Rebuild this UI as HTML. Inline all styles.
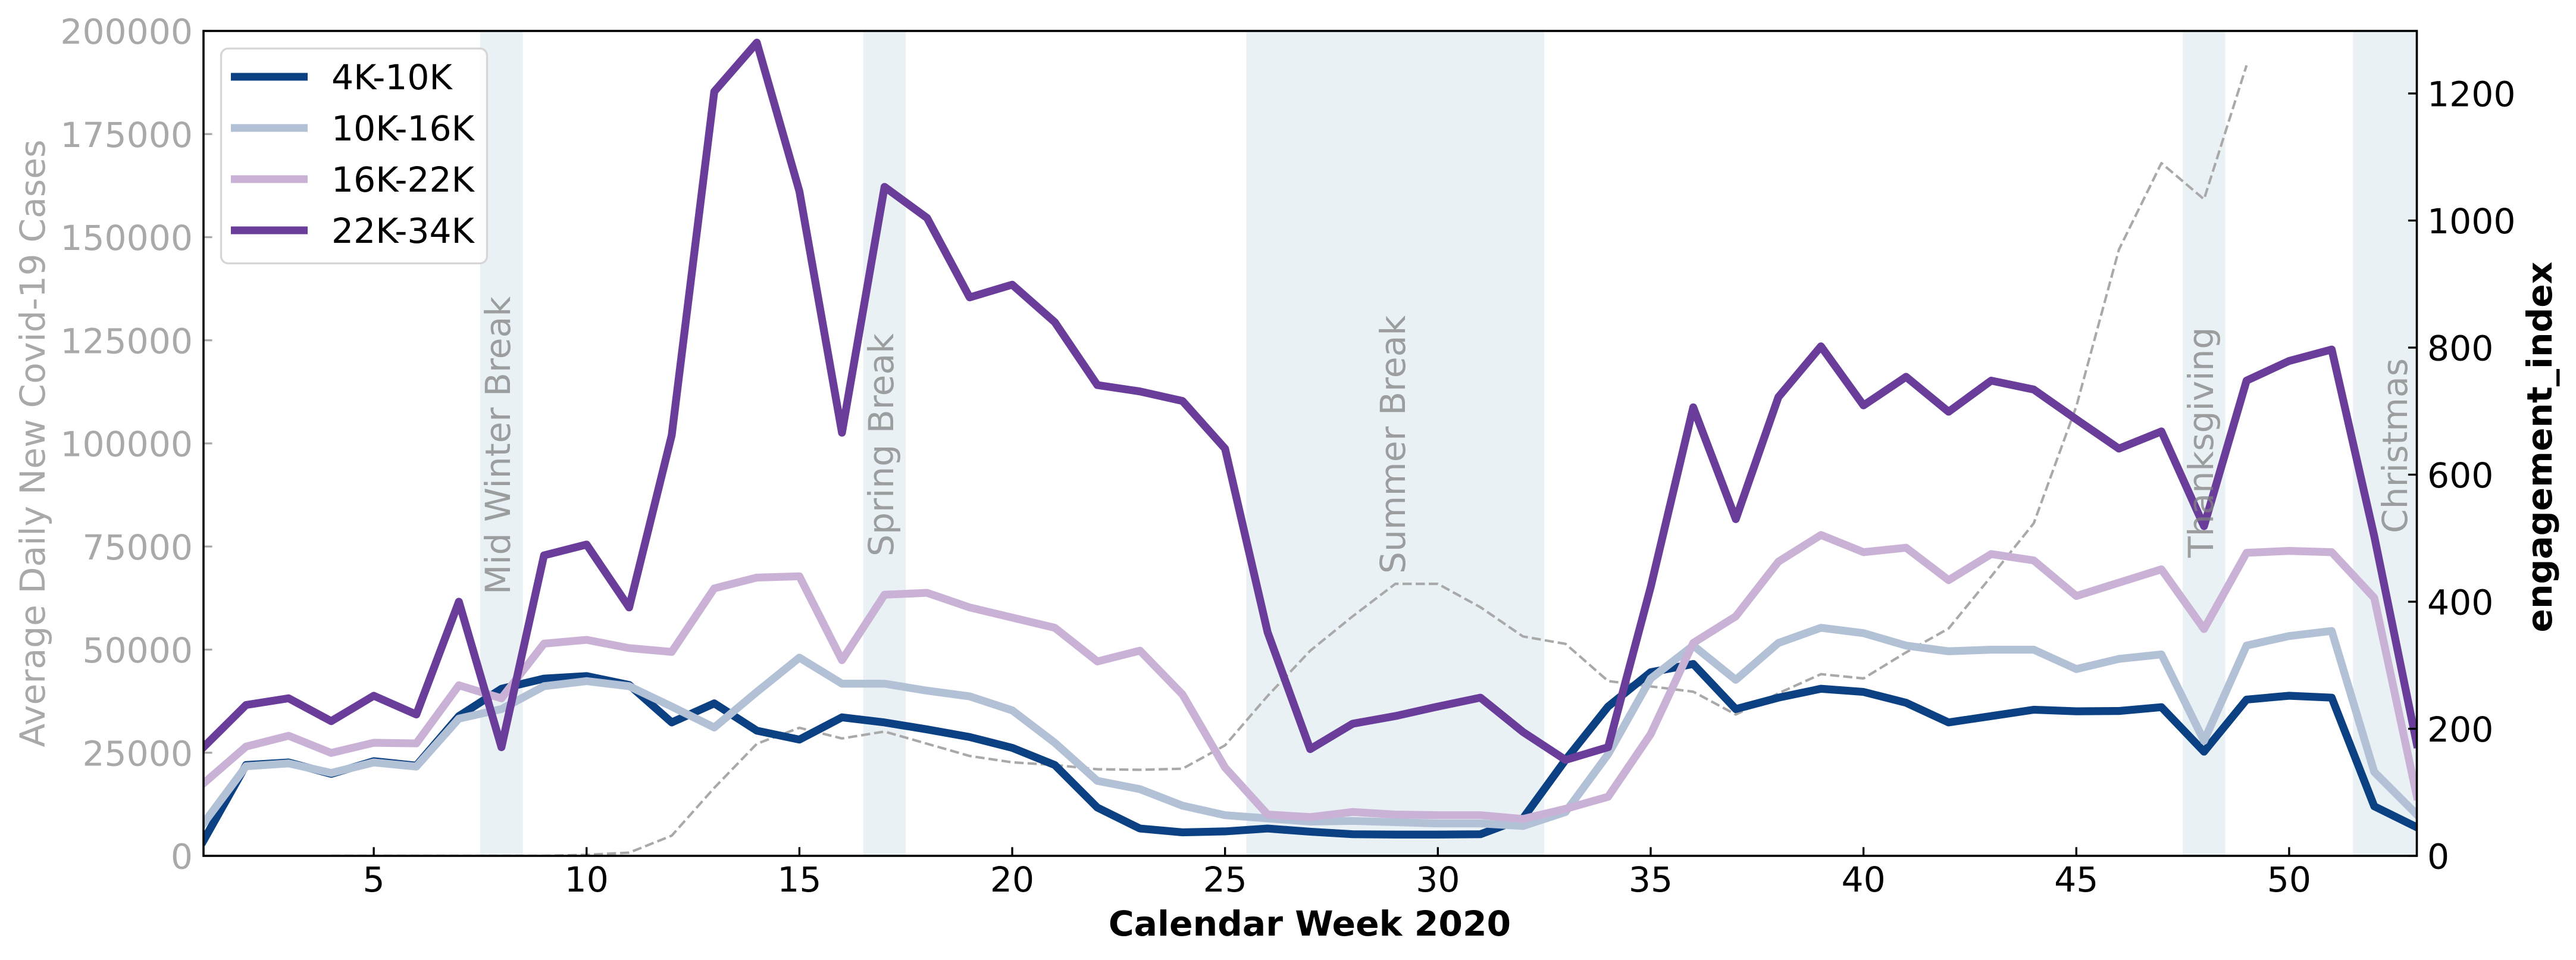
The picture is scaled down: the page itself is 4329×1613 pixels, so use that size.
<!DOCTYPE html>
<html lang="en">
<head>
<meta charset="utf-8">
<title>Engagement index and Covid-19 cases by calendar week 2020</title>
<style>
html,body{margin:0;padding:0;background:#fff;width:4329px;height:1613px;overflow:hidden}
svg{display:block}
text{font-family:"DejaVu Sans","Liberation Sans",sans-serif;font-size:58.33px}
</style>
</head>
<body>
<svg id="chart" xmlns="http://www.w3.org/2000/svg" width="4329" height="1613" viewBox="0 0 4329 1613">
<rect width="4329" height="1613" fill="#ffffff"/>
<defs><clipPath id="plot-clip"><rect x="342" y="52" width="3719.5" height="1386"/></clipPath></defs>
</svg>
<script>
const weeks = [1,2,3,4,5,6,7,8,9,10,11,12,13,14,15,16,17,18,19,20,21,22,23,24,25,26,27,28,29,30,31,32,33,34,35,36,37,38,39,40,41,42,43,44,45,46,47,48,49,50,51,52,53];
const series4k10k = [24,143,147,129,149,142,220,263,279,283,269,210,240,197,183,218,210,199,187,170,143,76,43,37,38.5,43,38,34,33.5,33.5,34,59,151,235,289,302,231,249,263,258,241,210,220,230,227.5,228,234,164,246,252,249,78,45];
const series10k16k = [51,141,145.5,130.5,147,140.5,216,231,267,275,267,235,202,258,312,271,271,260,251,229,178,118,105,79,64,59,54,55,53,51,51,47,69,160,279,331,277,335,359,350.5,331,322,324.5,324.5,294,310,317,181,331,346,354,132,65];
const series16k22k = [114,172,189,162,178,177,268.5,248,334,340,327,321,421,438,440,308,411,414,391,375,359,306,323,254,139,65,61,69,65,64,64,58,74,93,191.5,335,377,463,505,478,485,434,475,465,409,430,451,357,477,480,478,406,94];
const series22k34k = [171,237.5,248,212,252,222.5,400,171,473,490,391,662,1203,1280,1046,666,1053,1004,879,899,840,741,731,716,641,352,168,208,220,235,249,195,151,171,423,706,530,722,802,709,754,699,748,734,687,641,668,519,748,779,797,503,176];
const casesSeries = [null,null,null,0,0,0,0,0,0,258,773,4894,16486,27177,31041,28465,30139,27177,24214,22669,22025,20994,20866,21123,26790,38769,49717,58089,65946,65946,60278,53194,51391,42375,41087,39799,34261,39413,44050,43019,49330,55126,67749,80629,108965,146961,167955,159197,191654,null,null,null,null];
const seriesNames = ["4K-10K","10K-16K","16K-22K","22K-34K"];
const xTicks = [5,10,15,20,25,30,35,40,45,50];
const leftTicks = [0,25000,50000,75000,100000,125000,150000,175000,200000];
const rightTicks = [0,200,400,600,800,1000,1200];
const breakNames = ["Mid Winter Break","Spring Break","Summer Break","Thanksgiving","Christmas"];
const breakStarts = [7.5,16.5,25.5,47.5,51.5];
const breakEnds = [8.5,17.5,32.5,48.5,53];

const NS = "http://www.w3.org/2000/svg";
const svg = document.getElementById("chart");
const L = 342, R = 4061.5, T = 52, B = 1438;
const xMin = 1, xMax = 53, leftMax = 200000, rightMax = 1298.4;
const xScale = w => L + (w - xMin) / (xMax - xMin) * (R - L);
const yLeft = v => B - v / leftMax * (B - T);
const yRight = v => B - v / rightMax * (B - T);
const colors = ["#0b4083","#b3c1d6","#cab2d6","#6a3d9a"];
const GREY = "#a9a9a9";

function make(tag, attrs, parent, txt) {
  const e = document.createElementNS(NS, tag);
  for (const k in attrs) e.setAttribute(k, attrs[k]);
  if (txt !== undefined) e.textContent = txt;
  (parent || svg).appendChild(e);
  return e;
}
function linePath(xs, ys, scale) {
  let d = "", pen = false;
  ys.forEach((v, i) => {
    if (v === null) { pen = false; return; }
    d += (pen ? "L" : "M") + xScale(xs[i]).toFixed(2) + " " + scale(v).toFixed(2);
    pen = true;
  });
  return d;
}

/* holiday bands */
breakNames.forEach((n, i) => {
  const r = make("rect", {x: xScale(breakStarts[i]), y: T + 2, width: xScale(breakEnds[i]) - xScale(breakStarts[i]), height: B - T - 2, fill: "#e9f1f5"});
  
  
});

/* cases dashed line */
const casesLine = make("path", {d: linePath(weeks, casesSeries, yLeft), fill: "none", stroke: GREY, "stroke-width": 4.17, "stroke-dasharray": "15.4 6.67", "stroke-linejoin": "round", "clip-path": "url(#plot-clip)"});



/* engagement lines */
[series4k10k, series10k16k, series16k22k, series22k34k].forEach((s, i) => {
  const p = make("path", {d: linePath(weeks, s, yRight), fill: "none", stroke: colors[i], "stroke-width": 13.2, "stroke-linejoin": "round", "stroke-linecap": "square", "clip-path": "url(#plot-clip)"});
  
  
});

/* holiday labels */
const breakLabelX = [857,1501,2361,3719,4045];
const breakLabelY = [999,935,964,937,896];
breakNames.forEach((n, i) => {
  const t = make("text", {transform: "translate(" + breakLabelX[i] + " " + breakLabelY[i] + ") rotate(-90)", fill: "#808080", "fill-opacity": 0.75}, svg, n);
  
  
});

/* ticks */
xTicks.forEach(w => {
  const x = xScale(w);
  const m = make("line", {x1: x, x2: x, y1: B, y2: B - 14.6, stroke: "#000", "stroke-width": 3.33});
  
  
  const t = make("text", {x: x, y: 1498, "text-anchor": "middle", fill: "#000"}, svg, String(w));
  
  
});
leftTicks.forEach(v => {
  const y = yLeft(v);
  const m = make("line", {x1: L, x2: L + 14.6, y1: y, y2: y, stroke: GREY, "stroke-width": 3.33});
  
  
  const t = make("text", {x: 324, y: y + 21.5, "text-anchor": "end", fill: GREY}, svg, String(v));
  
  
});
rightTicks.forEach(v => {
  const y = yRight(v);
  const m = make("line", {x1: R, x2: R - 14.6, y1: y, y2: y, stroke: "#000", "stroke-width": 3.33});
  
  
  const t = make("text", {x: 4079, y: y + 21.5, "text-anchor": "start", fill: "#000"}, svg, String(v));
  
  
});

/* frame */
const frame = make("rect", {x: L, y: T, width: R - L, height: B - T, fill: "none", stroke: "#000", "stroke-width": 3.6});



/* axis titles */
const xTitle = make("text", {x: 2201, y: 1572, "text-anchor": "middle", "font-weight": "bold", fill: "#000"}, svg, "Calendar Week 2020");


const leftTitle = make("text", {transform: "translate(75 745) rotate(-90)", "text-anchor": "middle", fill: GREY}, svg, "Average Daily New Covid-19 Cases");


const rightTitle = make("text", {transform: "translate(4288 751) rotate(-90)", "text-anchor": "middle", "font-weight": "bold", fill: "#000"}, svg, "engagement_index");



/* legend */
const legendBox = make("rect", {x: 371.5, y: 81.5, width: 447, height: 361, rx: 12, ry: 12, fill: "#ffffff", "fill-opacity": 0.8, stroke: "#d6d6d6", "stroke-width": 3.33});


seriesNames.forEach((n, i) => {
  const cy = 129 + i * 86;
  const h = make("line", {x1: 388, x2: 517, y1: cy, y2: cy, stroke: colors[i], "stroke-width": 13});
  
  
  const t = make("text", {x: 557, y: cy + 21, fill: "#000"}, svg, n);
  
  
});
</script>
</body>
</html>
